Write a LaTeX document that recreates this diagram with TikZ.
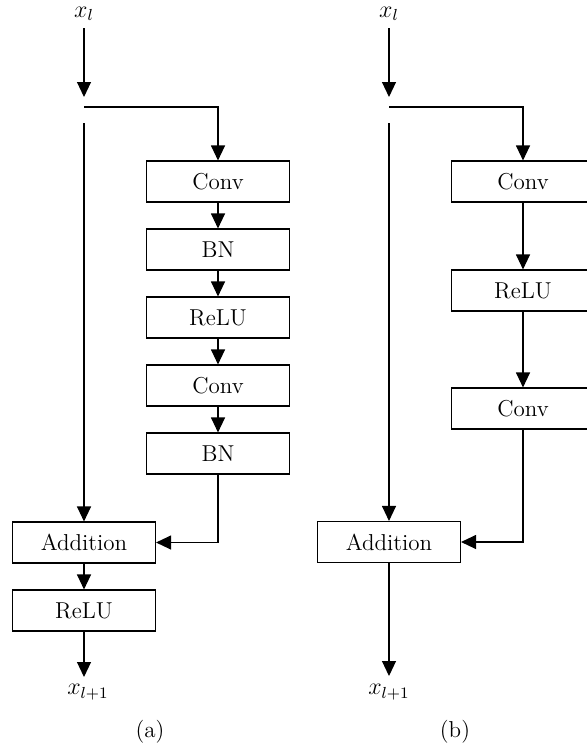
\documentclass[tikz,border=0pt]{standalone}
\usetikzlibrary{arrows.meta}
\begin{document}
\begin{tikzpicture}[x=0.5pt,y=-0.5pt,>={Triangle[length=7.5pt,width=7pt]},font=\fontsize{11.5}{13}\selectfont,line width=0.55pt,
	blk/.style={draw,minimum width=71.5pt,minimum height=20.5pt,inner sep=0pt}]
	\useasboundingbox (0,0) rectangle (587,744);
	% (a) with BN
	\node (a-in) at (84,14) {$x_l$};
	\path (84,97) coordinate (a-tip) (84,107) coordinate (a-br) (84,123) coordinate (a-sk) (84,677) coordinate (a-end);
	\foreach \n/\t/\y in {1/Conv/181.5,2/BN/249.5,3/ReLU/317.5,4/Conv/385.5,5/BN/453.5}
		\node[blk] (a\n) at (218,\y) {\t};
	\node[blk] (a-add) at (84,542.5) {Addition};
	\node[blk] (a-relu) at (84,610.5) {ReLU};
	\node (a-out) at (88,692) {$x_{l+1}$};
	\node (a-cap) at (150,732) {(a)};
	\draw[->] (a-in) -- (a-tip);
	\draw[->] (a-br) -| (a1);
	\foreach \i [count=\j from 2] in {1,...,4} \draw[->] (a\i) -- (a\j);
	\draw[->] (a-sk) -- (a-add);
	\draw[->] (a5) |- (a-add);
	\draw[->] (a-add) -- (a-relu);
	\draw[->] (a-relu) -- (a-end);
	% (b) without BN
	\node (b-in) at (389,14) {$x_l$};
	\path (389,97) coordinate (b-tip) (389,107) coordinate (b-br) (389,123) coordinate (b-sk) (389,676) coordinate (b-end);
	\foreach \n/\t/\y in {1/Conv/181.5,2/ReLU/290.5,3/Conv/408.5}
		\node[blk] (b\n) at (523,\y) {\t};
	\node[blk] (b-add) at (389,542) {Addition};
	\node (b-out) at (389,692) {$x_{l+1}$};
	\node (b-cap) at (455,732) {(b)};
	\draw[->] (b-in) -- (b-tip);
	\draw[->] (b-br) -| (b1);
	\foreach \i [count=\j from 2] in {1,2} \draw[->] (b\i) -- (b\j);
	\draw[->] (b-sk) -- (b-add);
	\draw[->] (b3) |- (b-add);
	\draw[->] (b-add) -- (b-end);
\end{tikzpicture}
\end{document}
